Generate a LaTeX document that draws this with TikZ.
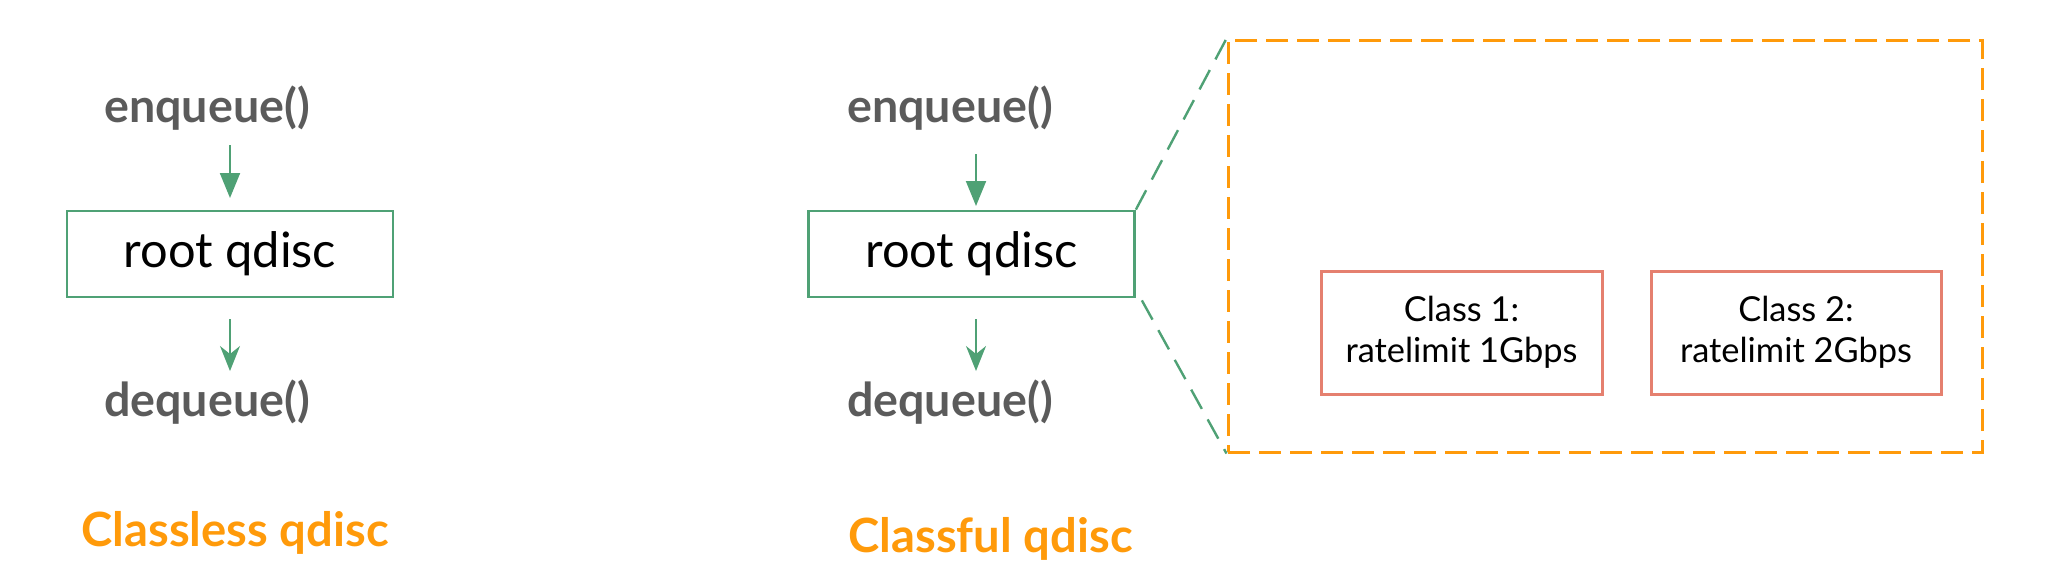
\documentclass[tikz,border=0pt]{standalone}
\usepackage{fontspec}
\setmainfont{Lato}
\usetikzlibrary{arrows.meta}
\definecolor{qgreen}{HTML}{4FA175}
\definecolor{qorange}{HTML}{FF9A0A}
\definecolor{qsalmon}{HTML}{E5806F}
\definecolor{qgray}{HTML}{5B5B5B}
\tikzset{
  qbox/.style={draw=qgreen, line width=1.35pt, minimum width=163pt, minimum height=43pt, inner sep=0pt,
    font=\fontsize{24.4}{28}\selectfont},
  fnlabel/.style={text=qgray, anchor=base, inner sep=0pt, font=\fontsize{23.3}{27}\selectfont\bfseries},
  title/.style={text=qorange, anchor=base west, inner sep=0pt, font=\fontsize{23.6}{27}\selectfont\bfseries},
  zoombox/.style={draw=qorange, line width=1.5pt, dash pattern=on 11pt off 4.5pt, minimum width=377pt, minimum height=206pt, inner sep=0pt},
  classbox/.style={draw=qsalmon, line width=1.5pt, minimum height=61.5pt, inner sep=0pt, align=center,
    font=\fontsize{17.2}{20.5}\selectfont},
  inarrow/.style={draw=qgreen, line width=1pt, -{Triangle[length=12.5pt, width=10pt]}},
  outarrow/.style={draw=qgreen, line width=1pt, -{Stealth[length=12.5pt, width=10pt, inset=4pt]}},
  zoomline/.style={draw=qgreen, line width=1.2pt, dash pattern=on 11pt off 6pt},
}
\begin{document}
\begin{tikzpicture}[x=0.5pt, y=-0.5pt]
\useasboundingbox (0,0) rectangle (2046,570);
% left: classless
\node[qbox] (lroot) at (230,254) {root qdisc};
\node[fnlabel] (lenq) at (207,122) {enqueue()};
\node[fnlabel] (ldeq) at (207,416) {dequeue()};
\coordinate (lina) at (230,145);
\coordinate (linb) at (230,198);
\coordinate (louta) at (230,319);
\coordinate (loutb) at (230,371);
\draw[inarrow] (lina) -- (linb);
\draw[outarrow] (louta) -- (loutb);
\node[title] (ltitle) at (81,546) {Classless qdisc};
% right: classful
\node[qbox] (rroot) at (971.5,254) {root qdisc};
\node[fnlabel] (renq) at (950,122) {enqueue()};
\node[fnlabel] (rdeq) at (950,416) {dequeue()};
\coordinate (rina) at (976,154);
\coordinate (rinb) at (976,206);
\coordinate (routa) at (976,319);
\coordinate (routb) at (976,371);
\draw[inarrow] (rina) -- (rinb);
\draw[outarrow] (routa) -- (routb);
\node[title] (rtitle) at (848,552) {Classful qdisc};
% zoom box
\node[zoombox] (zoom) at (1605,246) {};
\draw[zoomline] (rroot.north east) -- (zoom.north west);
\draw[zoomline] ([xshift=3pt,yshift=-1pt]rroot.south east) -- (zoom.south west);
\node[classbox, minimum width=140.5pt] (c1) at (1461.5,332.5) {Class 1:\\ratelimit 1Gbps};
\node[classbox, minimum width=145pt] (c2) at (1796,332.5) {Class 2:\\ratelimit 2Gbps};
\end{tikzpicture}
\end{document}
